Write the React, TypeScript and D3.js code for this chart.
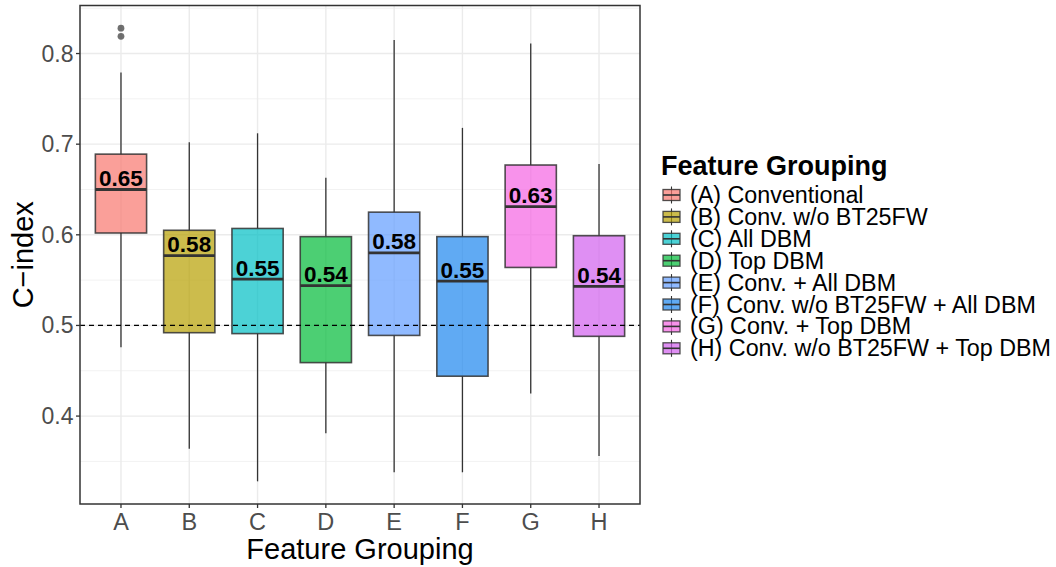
import React from 'react';
import * as d3 from 'd3';

// boxplot stats (C-index by feature grouping)
const categories = ['A', 'B', 'C', 'D', 'E', 'F', 'G', 'H'];
const legendLabels = [
  '(A) Conventional',
  '(B) Conv. w/o BT25FW',
  '(C) All DBM',
  '(D) Top DBM',
  '(E) Conv. + All DBM',
  '(F) Conv. w/o BT25FW + All DBM',
  '(G) Conv. + Top DBM',
  '(H) Conv. w/o BT25FW + Top DBM',
];
const whiskerLow = [0.476, 0.364, 0.328, 0.381, 0.338, 0.338, 0.425, 0.356];
const q1 = [0.602, 0.492, 0.491, 0.459, 0.489, 0.444, 0.564, 0.488];
const median = [0.650, 0.577, 0.551, 0.544, 0.580, 0.549, 0.631, 0.543];
const q3 = [0.689, 0.605, 0.607, 0.598, 0.625, 0.598, 0.677, 0.599];
const whiskerHigh = [0.779, 0.702, 0.712, 0.663, 0.815, 0.718, 0.811, 0.678];
const outlierCat = ['A', 'A'];
const outlierVal = [0.828, 0.819];
const yTicks = [0.4, 0.5, 0.6, 0.7, 0.8];
const yMinor = [0.35, 0.45, 0.55, 0.65, 0.75, 0.85];
const refLine = 0.5;

const COLORS = ['#F8766D', '#B79F00', '#00BFC4', '#00BA38', '#619CFF', '#1C86EE', '#F564E3', '#D15FEE'];

const FONT = "'Liberation Sans', Arial, Helvetica, sans-serif";
const W = 1056;
const H = 567;
const margin = { top: 5.5, right: 416, bottom: 63, left: 80 };

const App = () => {
  const x0 = margin.left;
  const x1 = W - margin.right;
  const y0 = margin.top;
  const y1 = H - margin.bottom;

  const allVals = [...whiskerLow, ...whiskerHigh, ...outlierVal];
  const [lo, hi] = d3.extent(allVals) as [number, number];
  const pad = (hi - lo) * 0.05;

  const x = d3.scalePoint<string>().domain(categories).range([x0, x1]).padding(0.6);
  const y = d3.scaleLinear().domain([lo - pad, hi + pad]).range([y1, y0]);
  const color = d3.scaleOrdinal<string, string>().domain(categories).range(COLORS);
  const boxW = x.step() * 0.75;

  const legendX = 663;
  const legendRow0 = 195;
  const rowH = 21.9;

  return (
    <svg width={W} height={H} style={{ position: 'absolute', left: 0, top: 0, fontFamily: FONT }}>
      <rect x={0} y={0} width={W} height={H} fill="white" />

      {/* grid */}
      {yMinor.filter(v => y(v) > y0 && y(v) < y1).map(v => (
        <line key={'mn' + v} x1={x0} x2={x1} y1={y(v)} y2={y(v)} stroke="#F2F2F2" strokeWidth={1} />
      ))}
      {yTicks.map(v => (
        <line key={'mj' + v} x1={x0} x2={x1} y1={y(v)} y2={y(v)} stroke="#EBEBEB" strokeWidth={1.4} />
      ))}
      {categories.map(c => (
        <line key={'vg' + c} x1={x(c)} x2={x(c)} y1={y0} y2={y1} stroke="#EBEBEB" strokeWidth={1.4} />
      ))}

      {/* boxes */}
      {categories.map((c, i) => {
        const cx = x(c)!;
        return (
          <g key={'box' + c}>
            <line x1={cx} x2={cx} y1={y(q3[i])} y2={y(whiskerHigh[i])} stroke="#333333" strokeWidth={1.3} />
            <line x1={cx} x2={cx} y1={y(q1[i])} y2={y(whiskerLow[i])} stroke="#333333" strokeWidth={1.3} />
            <rect x={cx - boxW / 2} y={y(q3[i])} width={boxW} height={y(q1[i]) - y(q3[i])}
              fill={color(c)} fillOpacity={0.7} stroke="#333333" strokeOpacity={0.85} strokeWidth={1.6} />
            <line x1={cx - boxW / 2} x2={cx + boxW / 2} y1={y(median[i])} y2={y(median[i])} stroke="#333333" strokeWidth={2.8} />
          </g>
        );
      })}

      {/* outliers */}
      {outlierVal.map((v, i) => (
        <circle key={'o' + i} cx={x(outlierCat[i])} cy={y(v)} r={3.4} fill="#333333" fillOpacity={0.7} />
      ))}

      {/* reference line */}
      <line x1={x0} x2={x1} y1={y(refLine)} y2={y(refLine)} stroke="black" strokeWidth={1.3} strokeDasharray="5,4" />

      {/* median labels */}
      {categories.map((c, i) => (
        <text key={'lab' + c} x={x(c)} y={y(median[i]) - 3.5} textAnchor="middle" fontSize={22.5} fontWeight="bold" fill="black">
          {median[i].toFixed(2)}
        </text>
      ))}

      {/* panel border */}
      <rect x={x0} y={y0} width={x1 - x0} height={y1 - y0} fill="none" stroke="#333333" strokeWidth={1.5} />

      {/* y axis */}
      {yTicks.map(v => (
        <g key={'yt' + v}>
          <line x1={x0 - 4} x2={x0} y1={y(v)} y2={y(v)} stroke="#333333" strokeWidth={1.3} />
          <text x={x0 - 6.5} y={y(v)} dy="0.35em" textAnchor="end" fontSize={23} fill="#4D4D4D">{v.toFixed(1)}</text>
        </g>
      ))}
      {/* x axis */}
      {categories.map(c => (
        <g key={'xt' + c}>
          <line x1={x(c)} x2={x(c)} y1={y1} y2={y1 + 4} stroke="#333333" strokeWidth={1.3} />
          <text x={x(c)} y={529.5} textAnchor="middle" fontSize={23.5} fill="#4D4D4D">{c}</text>
        </g>
      ))}

      {/* axis titles */}
      <text x={(x0 + x1) / 2} y={559} textAnchor="middle" fontSize={29} fill="black">Feature Grouping</text>
      <text transform={`translate(33,${(y0 + y1) / 2}) rotate(-90)`} textAnchor="middle" fontSize={29} fill="black">C−index</text>

      {/* legend */}
      <text x={661} y={174.5} fontSize={27} fontWeight="bold" fill="black">Feature Grouping</text>
      {categories.map((c, i) => {
        const cy = legendRow0 + i * rowH;
        const kx = legendX;
        const kw = 17;
        return (
          <g key={'lg' + c}>
            <line x1={kx + kw / 2} x2={kx + kw / 2} y1={cy - 8.5} y2={cy + 8.5} stroke="#333333" strokeWidth={1.1} />
            <rect x={kx} y={cy - 5.5} width={kw} height={11} fill={color(c)} fillOpacity={0.7} stroke="#333333" strokeOpacity={0.85} strokeWidth={1.3} />
            <line x1={kx} x2={kx + kw} y1={cy} y2={cy} stroke="#333333" strokeWidth={1.6} />
            <text x={690} y={cy + 8} fontSize={23.3} fill="black">{legendLabels[i]}</text>
          </g>
        );
      })}
    </svg>
  );
};

export default App;
